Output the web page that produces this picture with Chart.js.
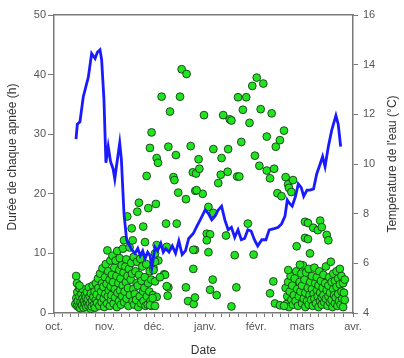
<!DOCTYPE html>
<html>
<head>
<meta charset="utf-8">
<script src="https://cdn.jsdelivr.net/npm/chart.js@4.4.1/dist/chart.umd.min.js"></script>
<style>
  html, body { margin: 0; padding: 0; background: #fff; }
  #wrap { width: 404px; height: 358px; }
</style>
</head>
<body>
<div id="wrap"><canvas id="apneaChart" width="404" height="358"></canvas></div>
<script>
// day 0 = 1 oct.
var monthDays = [0, 31, 61, 92, 123, 151, 182];
var monthLabels = ['oct.', 'nov.', 'déc.', 'janv.', 'févr.', 'mars', 'avr.'];

// apnée durations (day, hours)
var apneaOctNov = [
  [13,1.5],[13.6,2.5],[14,1.2],[14.2,3.5],[14.5,2],[15,1],[15.3,4.2],[15.5,2.8],[16.2,1.8],[16,0.8],
  [16.7,3.2],[17,1.3],[17.4,2.4],[17.5,4],[18,0.9],[18.3,2],[18.8,3],[19,1.5],[19.4,2.6],[19.7,1],
  [20.2,1.8],[20,3.5],[20.6,2.3],[21,1.2],[21.3,4.3],[21.7,2.8],[22,1.6],[22.4,0.7],[22.5,3.3],[23.2,2.1],
  [23,1.1],[23.6,4.6],[24,2.7],[24.3,1.4],[24.7,3.6],[25,0.9],[25.4,2.2],[25.5,5],[26.2,1.7],[26,3.1],
  [13.5,6.2],[14,5],[15.5,4.6],
  [26.8,5.8],[27,4.2],[27.6,1.2],[28.2,2.6],[28,6.6],[28.7,3.6],[29,1.8],[29.3,5],[29.5,7.5],[30.2,2.4],
  [30,4.4],[30.6,1],[31.2,3.2],[31,6],[31.5,8.2],[32.3,1.6],[32,4.9],[32.5,10.5],[32.8,2.8],[33,7],
  [33.4,3.8],[33.8,5.6],[34,1.2],[34.3,8.8],[34.7,2.2],[34.5,4.4],[35.2,6.4],[35,3],[35.6,9.6],[36.3,1.6],
  [36,5.2],[36.7,7.6],[37.2,2.6],[37,4],[37.5,8.8],[38.3,1],[38,6.2],[38.7,3.4],[38.5,10.4],[39.2,5],
  [39.5,2],[39.8,7.2],[40.2,3.8],[40,9.2],[40.7,1.4],[40.5,5.8],[41.2,8],[41.5,2.8],[41.8,4.6],[42.3,6.8],
  [42,10.8],[42.7,1.8],[43,3.6],[43.4,7.8],[43.8,5.2],[44.2,2.4],[44,9],[44.7,6.2],[45.3,1.2],[45,4.2],
  [45.6,7.4],[46.2,3],[46,11],[46.7,5.6],[47,8.4],[47.8,2],[47.5,6.6],[48.3,4],[48.5,9.4],[48.8,1.4],
  [49.2,3.2],[49.6,7],[50.3,5],[50,2.2],[50.5,8.6],[51.3,1],[51,4.6],[51.7,6.4],[52.2,2.8],[52.5,9.1],
  [53.2,5.4],[53,1.6],[53.7,7.8],[54.3,3.6],[54.5,2],[55.3,6],[55,4.2],[55.7,1.2],[56.2,8.2],[56.5,2.8],
  [57.3,5],[57,1.4],[58,3.6],[58.3,7],[58.7,2],[59.2,5.6],[59.5,1.2],[60.2,3],[60.5,7.6],[58.4,1.3]
];

var apneaDecFeb = [
  [65.5,36.3],[76.7,36.3],[70.6,33.8],[77.7,40.9],[80.7,40.1],[59.4,30.3],[58.4,27.7],[62.5,26],
  [63.3,25.2],[69.6,27.9],[74.2,26.5],[72.7,22.8],[73.3,22.3],[56.4,23],[75.6,20.2],[80.3,19.1],
  [83.2,28],[88,25.8],[84.5,23.6],[86.5,23.4],[88.5,24.2],[86,20.5],[90.5,20],[91.3,33.2],
  [97,27.5],[102,26],[100,21.8],[101.5,23.2],[105.7,23.7],[106,27.5],[103,33.2],[107,32.5],
  [108,32.3],[111.5,22.9],[112.8,22.9],[112,36.2],[117,36.2],[115,34.1],[114,28.7],[119,31.9],
  [120.7,38.1],[123.4,39.5],[127.4,38.5],[125.8,34.2],[132.5,33.5],[122.3,26.4],[125,24.7],
  [129.5,23.9],[131.5,22.6],[129.5,29.6],[135,27.9],[134,24.2],[137.5,29],[140,30.6],[136,20.1],
  [138.5,19.6],[141,22.8],[142.5,21.6],[145.5,22.3],[143,21],[144.5,20.3],
  [51.7,18.5],[57.4,17.6],[62,18.3],[50.7,17],[44.6,16.2],[47.3,14.2],[54.3,14.5],[42.6,12.2],
  [55.4,11.9],[47.9,12.2],[68.2,15],[74.7,15],[68.6,11.1],[62.5,11.4],[85.8,10.6],[84.8,10.6],
  [86.8,20.6],[94,17.8],[97,16.8],[93,13.3],[95,13.2],[93,12.2],[94,10.2],[104.7,13],[110,9.7],
  [121.5,9.8],[118,15],[111,4.3],[108,1.1],[84.8,7.4],[80.3,4.3],[69.6,4.3],[81.6,2],[85,1.5],
  [85.8,2.6],[67,6.5],[67.6,6.4],[68.6,4.5],[69.2,2.9],[62.5,2.7],[96.6,5.6],[95,3.9],[99,3],
  [63.5,8.8],[61.5,10],[61.5,8.6],[61.5,5.3],[60.6,7.2],[64.5,6],[60,2.5],[61.5,1.2]
];

var apneaMar = [
  [141,4.2],[141.5,1.5],[142,2.8],[142.5,5.2],[143,1],[143.5,3.6],[144,6.2],[144.5,2.2],[145,4.6],
  [145.5,1.4],[146,3],[146.5,5.8],[147,2],[147.5,7],[148,4],[148.5,1.2],[149,2.8],[149.5,5.2],
  [150,3.6],[150.5,6.6],[151,1.6],[151,4.6],[151.5,8],[152,2.4],[152.5,5.6],[153,3.4],[153,1],
  [153.5,6.8],[154,2],[154.5,4.2],[155,7.4],[155,1.4],[155.5,3],[156,5.2],[156.5,2.2],[157,4],
  [157,6.2],[157.5,1.2],[158,3.2],[158.5,7.6],[158.5,2.4],[159,5],[159.5,1.6],[160,3.8],[160,6],
  [160.5,2.8],[161,1],[161,4.6],[161.5,7],[162,2],[162,3.4],[162.5,5.4],[163,1.4],[163,2.6],
  [163.5,4.2],[164,6.4],[164,3],[164.5,1.8],[165,5],[165.5,2.4],[165.5,7.8],[166,3.8],[166.5,1.2],
  [167,4.6],[167,2.8],[167.5,6],[168,1.8],[168,3.4],[168.5,8.6],[169,5.2],[169,2.2],[169.5,1],
  [170,4],[170,6.6],[170.5,3],[171,1.6],[171,5.4],[171.5,2.6],[172,4.4],[172,7],[172.5,1.2],
  [173,3.2],[173,5.8],[173.5,2],[174,4.8],[174,7.4],[174.5,1.4],[175,3.6],[175,6.2],[175.5,2.4],
  [176,5],[176,1],[176.5,3.4],[177,5.6],[177,2.2],
  [149.7,8.1],[142.6,7.2],[133.5,5.3],[131.5,3.3],[134.5,1.6],[137.5,1.3],[140,1.2],
  [152.8,15.3],[154.6,15.1],[162,15.5],[157.8,14.3],[160.6,13.9],[163,14.4],[166,13.1],[167,12.2],
  [152.8,12.6],[154.6,12.4],[147.7,11.2],[155.8,10]
];

// température de l'eau (day, °C)
var tempDays = [13.4,14.2,15.8,17.8,20.9,22.9,25,26.4,28,29,30.4,31.6,33,34.4,36,37,38,40,41,42.6,
  44.2,47.3,49.3,51,52.5,54,55.5,57,58.5,59.6,61.5,63,65,66.5,68,70,72,74,76,78,80,82,
  84.8,87,89,92,94,96,98,100,102,104,106,108,110,112,114,116,118,120,122,124,126.5,129,131,
  134,136.5,138.6,140.6,142,143.5,145,147,148.7,150.5,152,154,155.8,158,159.9,162,163.5,165,
  167,169,171.6,173,174.5];
var tempValues = [11,11.6,11.7,12.7,13.5,14.45,14.25,14.5,14.6,14.2,12.6,10.05,10.7,10.1,9.8,
  9.4,9.9,10.85,10.2,8,6.95,6.55,6.4,6.6,6.3,6.5,6.2,6.45,6.3,5.85,6.65,6.5,6.8,6.45,6.6,6.45,
  6.7,6.4,6.9,6.35,6.5,7.0,7.2,7.5,7.75,8.15,8.0,7.75,7.9,8.15,8.3,7.75,7.35,7.45,7.05,7.35,
  6.95,7.0,7.35,7.3,6.95,6.7,6.95,6.95,7.35,7.4,7.45,7.6,7.9,8.55,8.4,8.3,8.7,9.2,9.05,8.7,
  8.95,8.95,9.0,9.6,10.0,10.3,9.9,10.7,11.35,11.95,11.6,10.7];

var apneaPoints = apneaOctNov.concat(apneaDecFeb, apneaMar).map(function(p){ return {x: p[0], y: p[1]}; });
var tempPoints = tempDays.map(function(d, i){ return {x: d, y: tempValues[i]}; });

var axisGrey = '#7a7a7a';
var fontFam = '"Liberation Sans", Arial, sans-serif';

// both side titles read bottom-to-top
var sideTitles = {
  id: 'sideTitles',
  afterDraw: function(chart) {
    var ctx = chart.ctx, a = chart.chartArea;
    ctx.save();
    ctx.font = '12px ' + fontFam;
    ctx.fillStyle = '#333';
    ctx.textAlign = 'center';
    ctx.textBaseline = 'middle';
    ctx.translate(13, 157);
    ctx.rotate(-Math.PI / 2);
    ctx.fillText('Durée de chaque apnée (h)', 0, 0);
    ctx.restore();
    ctx.save();
    ctx.font = '12px ' + fontFam;
    ctx.fillStyle = '#333';
    ctx.textAlign = 'center';
    ctx.textBaseline = 'middle';
    ctx.translate(393, (a.top + a.bottom) / 2);
    ctx.rotate(-Math.PI / 2);
    ctx.fillText("Température de l'eau (°C)", 0, 0);
    ctx.restore();
  }
};

new Chart(document.getElementById('apneaChart'), {
  type: 'scatter',
  data: {
    datasets: [{
      type: 'line',
      label: 'Température',
      data: tempPoints,
      yAxisID: 'y2',
      borderColor: '#1a1aff',
      borderWidth: 2.8,
      pointRadius: 0,
      fill: false,
      tension: 0,
      order: 0
    }, {
      label: 'Apnées',
      data: apneaPoints,
      yAxisID: 'y',
      backgroundColor: '#1fe41f',
      borderColor: 'rgba(25,60,25,0.9)',
      borderWidth: 1,
      pointRadius: 3.9,
      order: 1
    }]
  },
  options: {
    responsive: false,
    animation: false,
    layout: { padding: { top: 15, left: 0, right: 0, bottom: 0 } },
    plugins: { legend: { display: false }, tooltip: { enabled: false } },
    scales: {
      x: {
        type: 'linear',
        position: 'bottom',
        min: 0, max: 182,
        afterBuildTicks: function(scale) {
          var t = [];
          for (var m = 0; m < monthDays.length; m++) {
            t.push({value: monthDays[m]});
            if (m < monthDays.length - 1) {
              for (var k = 5; k < monthDays[m + 1] - monthDays[m] - 2; k += 5) t.push({value: monthDays[m] + k});
            }
          }
          scale.ticks = t;
        },
        afterFit: function(scale) { scale.height = 45; },
        ticks: {
          autoSkip: false, maxRotation: 0, padding: 3,
          color: '#555', font: { family: fontFam, size: 11 },
          callback: function(v) {
            var i = monthDays.indexOf(v);
            return i >= 0 ? monthLabels[i] : '';
          }
        },
        grid: { drawOnChartArea: false, drawTicks: true, tickLength: 4, color: axisGrey },
        border: { display: true, color: axisGrey, width: 1.5 },
        title: { display: true, text: 'Date', color: '#333', font: { family: fontFam, size: 12 }, padding: { top: 0, bottom: 0 } }
      },
      xTop: {
        type: 'linear',
        position: 'top',
        min: 0, max: 182,
        afterFit: function(scale) { scale.height = 0; },
        ticks: { display: false },
        grid: { display: false },
        border: { display: true, color: axisGrey, width: 1.5 }
      },
      y: {
        position: 'left',
        min: 0, max: 50,
        afterFit: function(scale) { scale.width = 54; },
        ticks: { stepSize: 10, padding: 2, color: '#555', font: { family: fontFam, size: 11 } },
        grid: { drawOnChartArea: false, drawTicks: true, tickLength: 6, color: axisGrey },
        border: { display: true, color: axisGrey, width: 1.5 }
      },
      y2: {
        position: 'right',
        min: 4, max: 16,
        afterFit: function(scale) { scale.width = 51; },
        ticks: { stepSize: 2, padding: 5, color: '#555', font: { family: fontFam, size: 11 } },
        grid: { drawOnChartArea: false, drawTicks: true, tickLength: 5, color: axisGrey },
        border: { display: true, color: axisGrey, width: 1.5 }
      }
    }
  },
  plugins: [sideTitles]
});
</script>
</body>
</html>
